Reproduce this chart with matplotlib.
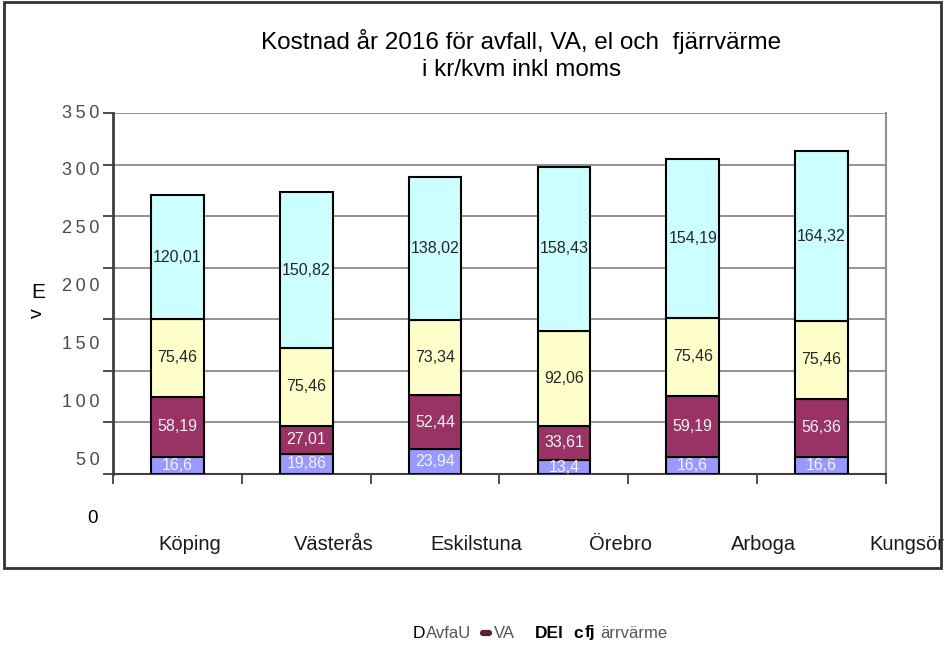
import matplotlib
matplotlib.use('Agg')

from matplotlib import pyplot as plt
from matplotlib.patches import Rectangle
from matplotlib.lines import Line2D
import numpy as np

plt.rcParams['font.family'] = ['Liberation Sans', 'DejaVu Sans']

cities = ['Köping', 'Västerås', 'Eskilstuna', 'Örebro', 'Arboga', 'Kungsör']
avfall = [16.6, 19.86, 23.94, 13.4, 16.6, 16.6]
va = [58.19, 27.01, 52.44, 33.61, 59.19, 56.36]
el = [75.46, 75.46, 73.34, 92.06, 75.46, 75.46]
fjarrvarme = [120.01, 150.82, 138.02, 158.43, 154.19, 164.32]
y_ticks = [0, 50, 100, 150, 200, 250, 300, 350]

series = [avfall, va, el, fjarrvarme]
colors = ['#9999ff', '#993366', '#ffffcc', '#ccffff']
text_colors = ['#f2f2f2', '#f2f2f2', '#262626', '#262626']

W, H = 950, 657
fig = plt.figure(figsize=(9.5, 6.57), dpi=100)
ax = fig.add_axes([113 / W, 1 - 474 / H, (886 - 113) / W, (474 - 113) / H])

x = np.arange(len(cities))
bottom = np.zeros(len(cities))
for vals, c, tc in zip(series, colors, text_colors):
    vals = np.array(vals)
    ax.bar(x, vals, width=0.41, bottom=bottom, color=c, edgecolor='black',
           linewidth=1.5, zorder=3)
    for xi, b, v in zip(x, bottom, vals):
        ax.text(xi, b + v / 2, str(v).replace('.', ','), ha='center', va='center',
                fontsize=11.5, color=tc, zorder=4)
    bottom += vals

ax.set_xlim(-0.5, len(cities) - 0.5)
ax.set_ylim(0, 350)
ax.set_yticks(y_ticks)
ax.set_yticklabels([])
ax.set_xticks(np.arange(len(cities) + 1) - 0.5)
ax.set_xticklabels([])
ax.tick_params(axis='both', direction='out', length=7, width=1.3, color='#404040')
ax.grid(axis='y', color='#808080', linewidth=1.2, zorder=0)

ax.spines['top'].set_visible(False)
ax.spines['left'].set_color('#404040')
ax.spines['left'].set_linewidth(2)
ax.spines['bottom'].set_color('#404040')
ax.spines['bottom'].set_linewidth(1.5)
ax.spines['right'].set_color('#909090')
ax.spines['right'].set_linewidth(1.5)

# y labels (stretched spacing like in the original)
for v in y_ticks[1:]:
    yl = 350 - (350 - v) * 1.123
    ax.text(-0.017, yl, '\u2009'.join(str(v)), transform=ax.get_yaxis_transform(),
            ha='right', va='center', fontsize=13, color='#4a4a4a', clip_on=False)
ax.text(-0.026, 350 - 350 * 1.123, '0', transform=ax.get_yaxis_transform(),
        ha='center', va='center', fontsize=13.5, color='black', clip_on=False)

# x labels (stretched spacing)
for i, name in enumerate(cities):
    ax.text(i * 1.113 + 0.097, -68, name, ha='center', va='center',
            fontsize=14.5, color='#1a1a1a', clip_on=False)

# title
fig.text(521 / W, 1 - 42 / H, 'Kostnad år 2016 för avfall, VA, el och  fjärrvärme',
         ha='center', va='center', fontsize=17.5)
fig.text(522 / W, 1 - 70 / H, 'i kr/kvm inkl moms', ha='center', va='center', fontsize=17.5)

# y axis label pieces
fig.text(38 / W, 1 - 292 / H, 'E', ha='center', va='center', fontsize=15)
fig.text(37 / W, 1 - 313 / H, 'v', ha='center', va='center', fontsize=14, rotation=90)

# legend line
ly = 1 - 633 / H
fig.text(413 / W, ly, 'D', ha='left', va='center', fontsize=12.5, color='black')
fig.text(426 / W, ly, 'AvfaU', ha='left', va='center', fontsize=12, color='#555555')
fig.add_artist(Line2D([483 / W, 489 / W], [ly, ly], transform=fig.transFigure,
                      color='#5a1f35', linewidth=4.5, solid_capstyle='round'))
fig.text(494 / W, ly, 'VA', ha='left', va='center', fontsize=12, color='#555555')
fig.text(535 / W, ly, 'DEl', ha='left', va='center', fontsize=12.5, color='black',
         fontweight='bold')
fig.text(573 / W, ly, 'c', ha='left', va='center', fontsize=12.5, color='black',
         fontweight='bold')
fig.text(585 / W, ly, 'fj', ha='left', va='center', fontsize=12.5, color='black',
         fontweight='bold')
fig.text(600 / W, ly, 'ärrvärme', ha='left', va='center', fontsize=12, color='#555555')

# outer frame
fig.add_artist(Rectangle((4 / W, 1 - 568 / H), 937 / W, 566 / H, transform=fig.transFigure,
                         fill=False, edgecolor='#333333', linewidth=2))

plt.savefig('out.png', dpi=100)
plt.close()
